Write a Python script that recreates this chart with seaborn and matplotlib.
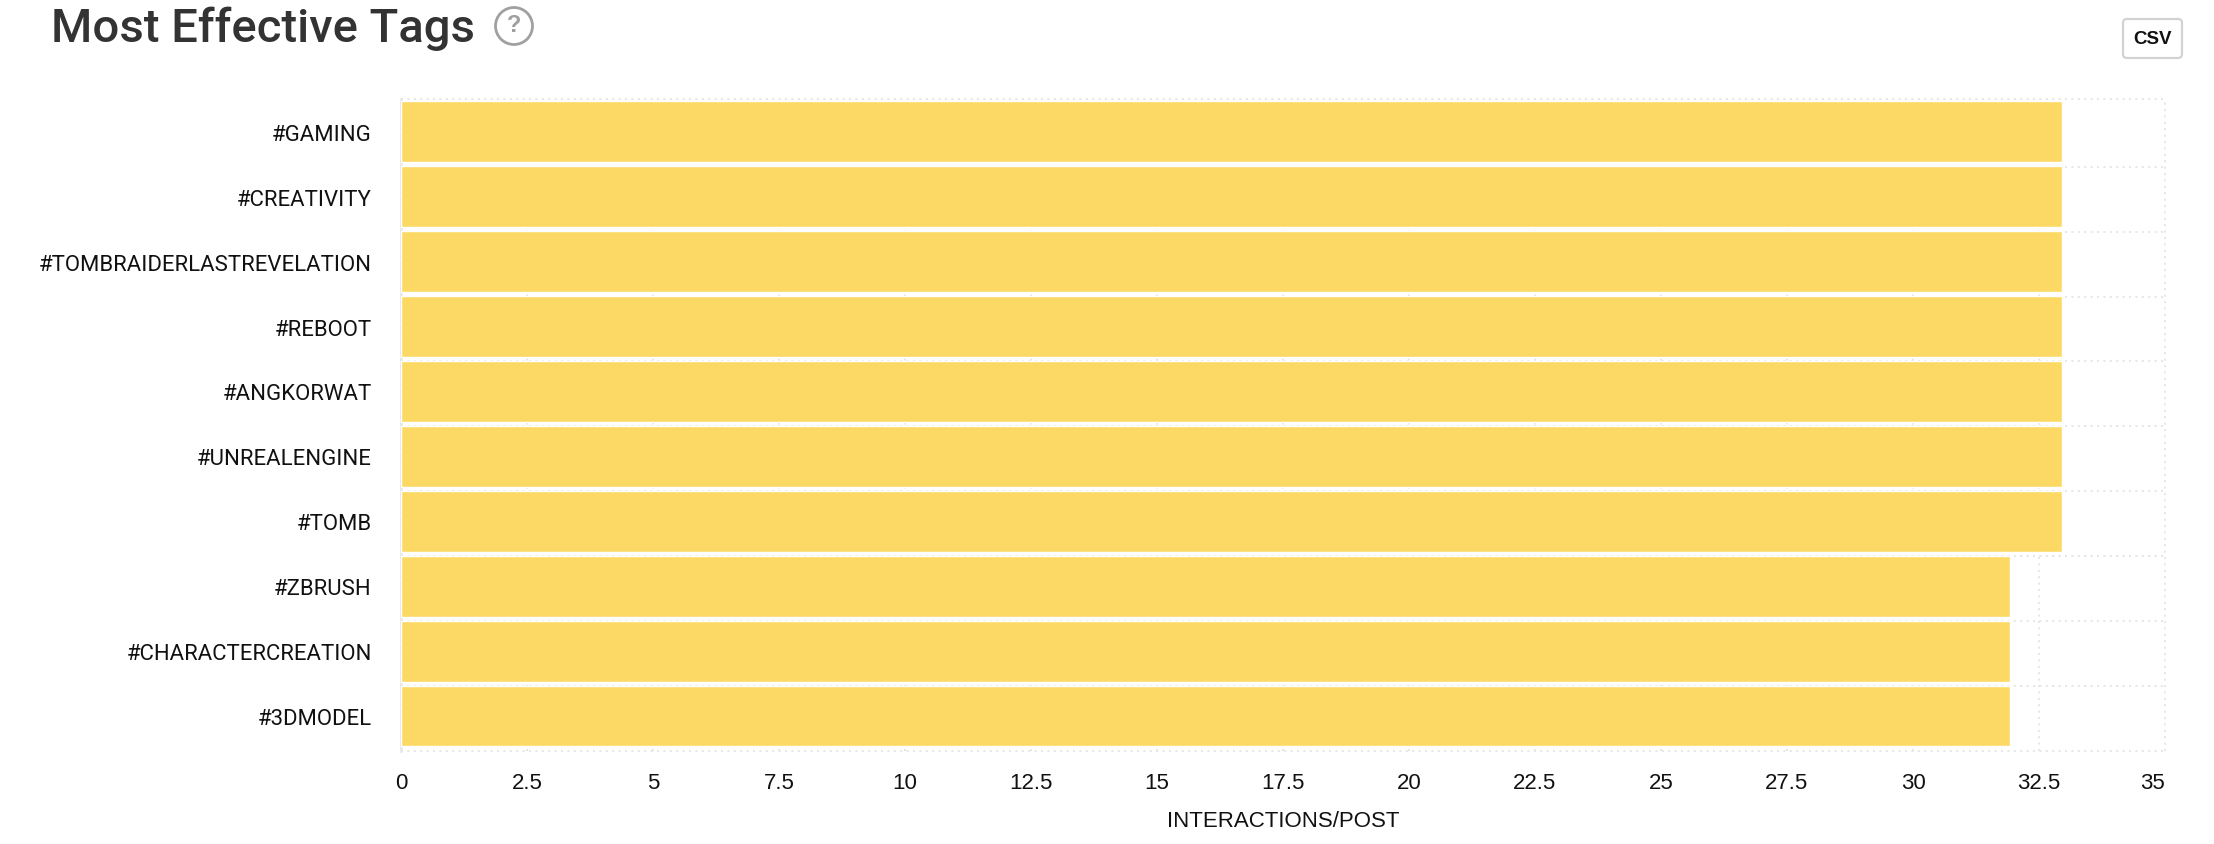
import matplotlib
matplotlib.use('Agg')
import matplotlib.pyplot as plt
from matplotlib.patches import FancyBboxPatch, Ellipse
from matplotlib.transforms import IdentityTransform, ScaledTranslation
import numpy as np
import pandas as pd
import seaborn as sns

tags = ['#GAMING', '#CREATIVITY', '#TOMBRAIDERLASTREVELATION', '#REBOOT', '#ANGKORWAT',
        '#UNREALENGINE', '#TOMB', '#ZBRUSH', '#CHARACTERCREATION', '#3DMODEL']
interactions = [32.96, 32.96, 32.96, 32.96, 32.96, 32.96, 32.96, 31.93, 31.93, 31.93]
x_ticks = [0, 2.5, 5, 7.5, 10, 12.5, 15, 17.5, 20, 22.5, 25, 27.5, 30, 32.5, 35]
x_ticklabels = ['0', '2.5', '5', '7.5', '10', '12.5', '15', '17.5', '20', '22.5',
                '25', '27.5', '30', '32.5', '35']

W, H = 2214, 844
BAR = '#FCD964'
GRID = '#E6E6E6'
LABEL_FS = 16

sns.set_theme(style='white')
plt.rcParams['font.family'] = ['Liberation Sans', 'DejaVu Sans']

df = pd.DataFrame({'tag': tags, 'value': interactions})

fig = plt.figure(figsize=(W / 100, H / 100), dpi=100, facecolor='white')
ax = fig.add_axes([401 / W, 1 - 750.7 / H, (2165 - 401) / W, (750.7 - 99) / H])

sns.barplot(data=df, x='value', y='tag', orient='h', color=BAR, saturation=1,
            width=0.93, ax=ax, zorder=3)

ax.set_xlim(0, 35)
ax.set_ylim(9.53, -0.503)
ax.set_xticks(x_ticks)
ax.set_xticklabels(x_ticklabels, fontsize=LABEL_FS, color='#111111')
ax.set_yticks(range(len(tags)))
ax.set_yticklabels(tags, fontsize=15.9, color='#111111', va='center_baseline',
                   family=['Roboto', 'DejaVu Sans'])
ax.set_yticks([-0.503] + [k - 0.462 for k in range(1, len(tags))] + [9.53], minor=True)

ax.set_axisbelow(True)
ax.grid(True, which='major', axis='x', color=GRID, lw=1.44, ls=(0, (1, 2.2)))
ax.grid(True, which='minor', axis='y', color=GRID, lw=1.44, ls=(0, (1, 2.2)))
for tick in ax.xaxis.get_major_ticks() + ax.yaxis.get_minor_ticks():
    tick.gridline.set_clip_on(False)

ax.tick_params(axis='x', which='major', length=0, pad=16)
ax.tick_params(axis='y', which='major', length=0, pad=21)
ax.tick_params(axis='y', which='minor', length=6.5, width=1.44, color=GRID)
ax.get_xticklabels()[-1].set_ha('right')

# nudge the tag labels down a little
nudge = ScaledTranslation(0, -1 / 100, fig.dpi_scale_trans)
for lab in ax.get_yticklabels():
    lab.set_transform(lab.get_transform() + nudge)

sns.despine(ax=ax, top=True, right=True, bottom=True)
ax.spines['left'].set_color(GRID)
ax.spines['left'].set_linewidth(1.8)

ax.set_ylabel('')
ax.set_xlabel('INTERACTIONS/POST', fontsize=LABEL_FS, color='#111111', labelpad=12)

# title and the help icon
fig.text(51 / W, 1 - 42 / H, 'Most Effective Tags', fontsize=34, fontweight=500,
         family=['Roboto', 'DejaVu Sans'], color='#333333', ha='left', va='baseline')
fig.add_artist(Ellipse((514, H - 26), 37, 37, transform=IdentityTransform(),
                       fc='white', ec='#A0A0A0', lw=2))
fig.text(514 / W, 1 - 26 / H, '?', fontsize=17, fontweight='bold', color='#A0A0A0',
         ha='center', va='center')

# CSV button
fig.add_artist(FancyBboxPatch((2123, H - 58), 59, 39, boxstyle='round,pad=0,rounding_size=4',
                              transform=IdentityTransform(), fc='white', ec='#D2D2D2', lw=1.6))
fig.text(2152.5 / W, 1 - 39.5 / H, 'CSV', fontsize=13.5, fontweight='bold', color='#111111',
         ha='center', va='center')

fig.savefig('out.png', dpi=100)
